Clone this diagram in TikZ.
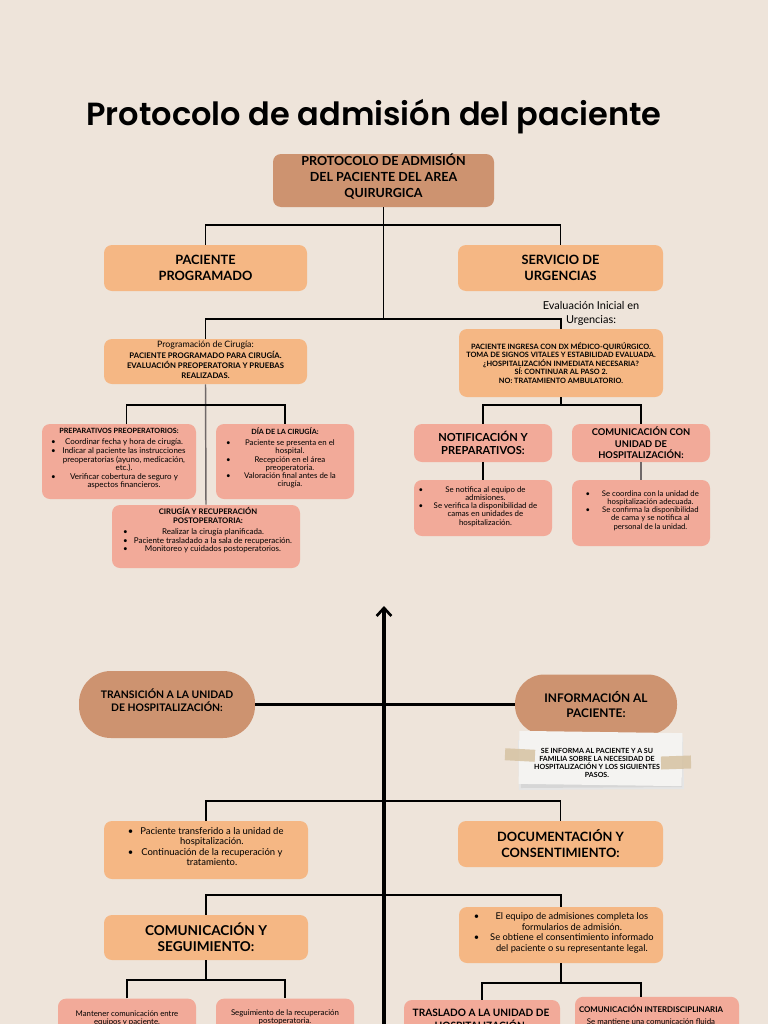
\documentclass[tikz,border=0pt]{standalone}
\usepackage{fontspec}
\setmainfont{Lato}
\newfontfamily\titlef{Poppins SemiBold}
\usepackage{array}
\usetikzlibrary{arrows.meta}
\definecolor{bgc}{HTML}{EEE4DA}
\definecolor{dkc}{HTML}{CD9370}
\definecolor{pcc}{HTML}{F5B784}
\definecolor{slc}{HTML}{F2AA99}
\definecolor{notec}{HTML}{F4F3F1}
\definecolor{tapec}{HTML}{D6C2A2}
\definecolor{lgc}{HTML}{6F6868}
\newcommand\fs[2]{\fontsize{#1}{#2}\selectfont}
\newcommand\bi[1]{\textbullet & \begin{tabular}[t]{@{}c@{}}#1\end{tabular}\\}
\newcommand\blist[2]{\begin{tabular}{@{}c@{\hspace{4pt}}>{\centering\arraybackslash}p{#1}@{}}#2\end{tabular}}
\begin{document}
\begin{tikzpicture}[x=0.75pt,y=-0.75pt,
  bx/.style={rounded corners=6pt, inner sep=0pt, align=center, text=black},
  dk/.style={bx, fill=dkc},
  pc/.style={bx, fill=pcc},
  sl/.style={bx, fill=slc},
  tx/.style={align=center, inner sep=0pt, text=black},
  hd/.style={font=\bfseries\fs{9.6}{12}},
  ln/.style={draw=black, line width=0.8pt},
  gl/.style={draw=lgc, line width=1.1pt},
  thk/.style={draw=black, line width=2.3pt}]
\fill[bgc] (0,0) rectangle (768,1024);
\useasboundingbox (0,0) rectangle (768,1024);
\clip (0,0) rectangle (768,1024);

% title
\node[tx, font=\titlef\fs{24}{28}] (title) at (374,117) {Protocolo de admisión del paciente};

% ---- top part
\node[dk, minimum width=165.75pt, minimum height=39.75pt] (top) at (383.5,180.5) {};
\node[tx, font=\bfseries\fs{9.4}{12}] (topT) at (383.5,176.5) {PROTOCOLO DE ADMISIÓN\\DEL PACIENTE DEL AREA\\QUIRURGICA};
\node[pc, hd, minimum width=152.25pt, minimum height=34.5pt] (prog) at (205.5,268) {PACIENTE\\PROGRAMADO};
\node[pc, hd, minimum width=153.75pt, minimum height=34.5pt] (urg) at (560.5,268) {SERVICIO DE\\URGENCIAS};
\node[tx, font=\fs{8.2}{9.8}] (evl) at (591,313.5) {Evaluación Inicial en\\Urgencias:};

\node[pc, minimum width=152.25pt, minimum height=33.75pt] (pcir) at (205.5,361.5) {};
\node[tx, font=\bfseries\fs{5.8}{7.2}] (pcirT) at (205.5,359.5) {{\mdseries\fs{6.6}{8}Programación de Cirugía:}\\[1.5pt]PACIENTE PROGRAMADO PARA CIRUGÍA.\\EVALUACIÓN PREOPERATORIA Y PRUEBAS\\REALIZADAS.};

\node[pc, minimum width=153pt, minimum height=51pt, font=\bfseries\fs{5.5}{6.4}] (eval) at (561,363) {PACIENTE INGRESA CON DX MÉDICO-QUIRÚRGICO.\\TOMA DE SIGNOS VITALES Y ESTABILIDAD EVALUADA.\\¿HOSPITALIZACIÓN INMEDIATA NECESARIA?\\SÍ: CONTINUAR AL PASO 2.\\NO: TRATAMIENTO AMBULATORIO.};

% left sub boxes
\node[sl, minimum width=115.5pt, minimum height=56.25pt] (prep) at (119,461.5) {};
\node[tx, font=\bfseries\fs{5.4}{7}] (prepT) at (119,431) {PREPARATIVOS PREOPERATORIOS:};
\node[tx, font=\fs{6}{6.2}] (prepL) at (119,464.5) {\blist{94.5pt}{\bi{Coordinar fecha y hora de cirugía.}\bi{Indicar al paciente las instrucciones\\preoperatorias (ayuno, medicación,\\etc.).}\bi{Verificar cobertura de seguro y\\aspectos financieros.}}};
\coordinate (prepN) at (126.5,424);

\node[sl, minimum width=103.5pt, minimum height=56.25pt] (dia) at (285,461.5) {};
\node[tx, font=\bfseries\fs{5.4}{7}] (diaT) at (285,431) {DÍA DE LA CIRUGÍA:};
\node[tx, font=\fs{5.9}{6.2}] (diaL) at (285,464.5) {\blist{81pt}{\bi{Paciente se presenta en el\\hospital.}\bi{Recepción en el área\\preoperatoria.}\bi{Valoración final antes de la\\cirugía.}}};

\node[sl, minimum width=141pt, minimum height=47.25pt] (cir) at (206,536.5) {};
\node[tx, font=\bfseries\fs{5.75}{7}] (cirT) at (208,515.5) {CIRUGÍA Y RECUPERACIÓN\\POSTOPERATORIA:};
\node[tx, font=\fs{6}{6.2}] (cirL) at (208,541.5) {\blist{120pt}{\bi{Realizar la cirugía planificada.}\bi{Paciente trasladado a la sala de recuperación.}\bi{Monitoreo y cuidados postoperatorios.}}};

% right sub boxes
\node[sl, minimum width=103.5pt, minimum height=28.5pt, font=\bfseries\fs{8.3}{10}] (notif) at (483,443) {NOTIFICACIÓN Y\\PREPARATIVOS:};
\node[sl, minimum width=103.5pt, minimum height=28.5pt, font=\bfseries\fs{7}{8.5}] (comun) at (641,443) {COMUNICACIÓN CON\\UNIDAD DE\\HOSPITALIZACIÓN:};
\node[sl, minimum width=103.5pt, minimum height=42pt] (notifd) at (483,508) {};
\node[tx, font=\fs{5.9}{6.2}] (notifL) at (480.5,507) {\blist{85.5pt}{\bi{Se notifica al equipo de\\admisiones.}\bi{Se verifica la disponibilidad de\\camas en unidades de\\hospitalización.}}};
\node[sl, minimum width=103.5pt, minimum height=49.5pt] (comund) at (641,513) {};
\node[tx, font=\fs{5.8}{6.2}] (comunL) at (645.5,511) {\blist{82.5pt}{\bi{Se coordina con la unidad de\\hospitalización adecuada.}\bi{Se confirma la disponibilidad\\de cama y se notifica al\\personal de la unidad.}}};

% connectors top part
\coordinate (j1) at (383.5,225);
\coordinate (j2) at (383.5,319);
\coordinate (j3) at (205.5,405);
\coordinate (j4) at (561,405);
\draw[ln] (top.south) -- (j2);
\draw[ln] (prog.north) |- (j1) -| (urg.north);
\draw[ln] (pcir.north) |- (j2) -| (eval.north);
\draw[gl] (pcir.south) -- (cir.north);
\draw[ln] (prepN) |- (j3) -| (dia.north);
\draw[ln] (eval.south) -- (j4);
\draw[ln] (notif.north) |- (j4) -| (comun.north);
\draw[ln] (notif.south) -- (notifd.north);
\draw[gl] (comun.south) -- (comund.north);

% ---- middle part
\coordinate (abot) at (384,1030);
\coordinate (atip) at (384,606);
\draw[thk, -{Straight Barb[length=6pt,width=11pt,line width=2pt]}] (abot) -- (atip);
\node[dk, rounded corners=24pt, minimum width=132pt, minimum height=50.25pt] (trans) at (167,704.5) {};
\node[tx, font=\bfseries\fs{7.8}{9.5}] (transT) at (167,700.5) {TRANSICIÓN A LA UNIDAD\\DE HOSPITALIZACIÓN:};
\node[dk, rounded corners=22pt, minimum width=121.5pt, minimum height=45pt, font=\bfseries\fs{8.9}{11.2}] (info) at (596,704.5) {INFORMACIÓN AL\\PACIENTE:};
\draw[thk] (trans.east) -- (info.west);

% paper note
\fill[black!10] (518,740) -- (683,737) -- (684,789) -- (519,790) -- cycle;
\fill[black!16] (520,744) -- (682,742) -- (682,787) -- (521,788) -- cycle;
\node[fill=notec, minimum width=122.25pt, minimum height=39.75pt, inner sep=0pt, rotate=-0.8] (note) at (600.5,758.5) {};
\fill[tapec, opacity=0.85, rotate around={-3:(520,755)}] (505,749) rectangle (535,761);
\fill[tapec, opacity=0.85, rotate around={2:(676,762)}] (661,756) rectangle (691,769);
\node[tx, font=\bfseries\fs{5.3}{6.1}] (noteT) at (597,763) {SE INFORMA AL PACIENTE Y A SU\\FAMILIA SOBRE LA NECESIDAD DE\\HOSPITALIZACIÓN Y LOS SIGUIENTES\\PASOS.};

% ---- bottom part
\node[pc, minimum width=153pt, minimum height=43.5pt] (transd) at (206,850) {};
\node[tx, font=\fs{7.1}{7.6}] (transdL) at (206.5,848) {\blist{110pt}{\bi{Paciente transferido a la unidad de\\hospitalización.}\bi{Continuación de la recuperación y\\tratamiento.}}};
\node[pc, hd, minimum width=153.75pt, minimum height=34.5pt] (doc) at (560.5,844) {DOCUMENTACIÓN Y\\CONSENTIMIENTO:};
\node[pc, minimum width=153pt, minimum height=33.75pt, font=\bfseries\fs{10.2}{12}] (comseg) at (206,937.5) {COMUNICACIÓN Y\\SEGUIMIENTO:};
\node[pc, minimum width=153pt, minimum height=42pt] (docd) at (561,935) {};
\node[tx, font=\fs{7}{8}] (docdL) at (566.5,933.5) {\blist{131pt}{\bi{El equipo de admisiones completa los\\formularios de admisión.}\bi{Se obtiene el consentimiento informado\\del paciente o su representante legal.}}};

\node[sl, minimum width=103.5pt, minimum height=32pt] (mant) at (127,1020) {};
\node[tx, font=\fs{5.85}{6}] (mantT) at (127,1018.3) {Mantener comunicación entre\\equipos y paciente.};
\node[sl, minimum width=103.5pt, minimum height=32pt] (seg) at (285,1020) {};
\node[tx, font=\fs{5.9}{6}] (segT) at (285,1017) {Seguimiento de la recuperación\\postoperatoria.};
\node[sl, minimum width=117pt, minimum height=37.5pt] (tras) at (482,1025) {};
\node[tx, font=\bfseries\fs{7.6}{10}] (trasT) at (481,1019.5) {TRASLADO A LA UNIDAD DE\\HOSPITALIZACIÓN:};
\node[sl, minimum width=123pt, minimum height=40pt] (interd) at (657,1023.5) {};
\node[tx, font=\bfseries\fs{5.9}{7}] (interdT) at (651,1009.3) {COMUNICACIÓN INTERDISCIPLINARIA};
\node[tx, font=\fs{5.9}{6.5}] (interdL) at (651,1022) {Se mantiene una comunicación fluida};
\coordinate (interdN) at (641,997);

\coordinate (j5) at (384,801);
\coordinate (j6) at (384,895);
\coordinate (j7) at (206,980);
\coordinate (j8) at (561,983);
\draw[ln] (transd.north) |- (j5) -| (doc.north);
\draw[ln] (comseg.north) |- (j6) -| (docd.north);
\draw[ln] (comseg.south) -- (j7);
\draw[ln] (mant.north) |- (j7) -| (seg.north);
\draw[ln] (docd.south) -- (j8);
\draw[ln] (tras.north) |- (j8) -| (interdN);
\end{tikzpicture}
\end{document}
